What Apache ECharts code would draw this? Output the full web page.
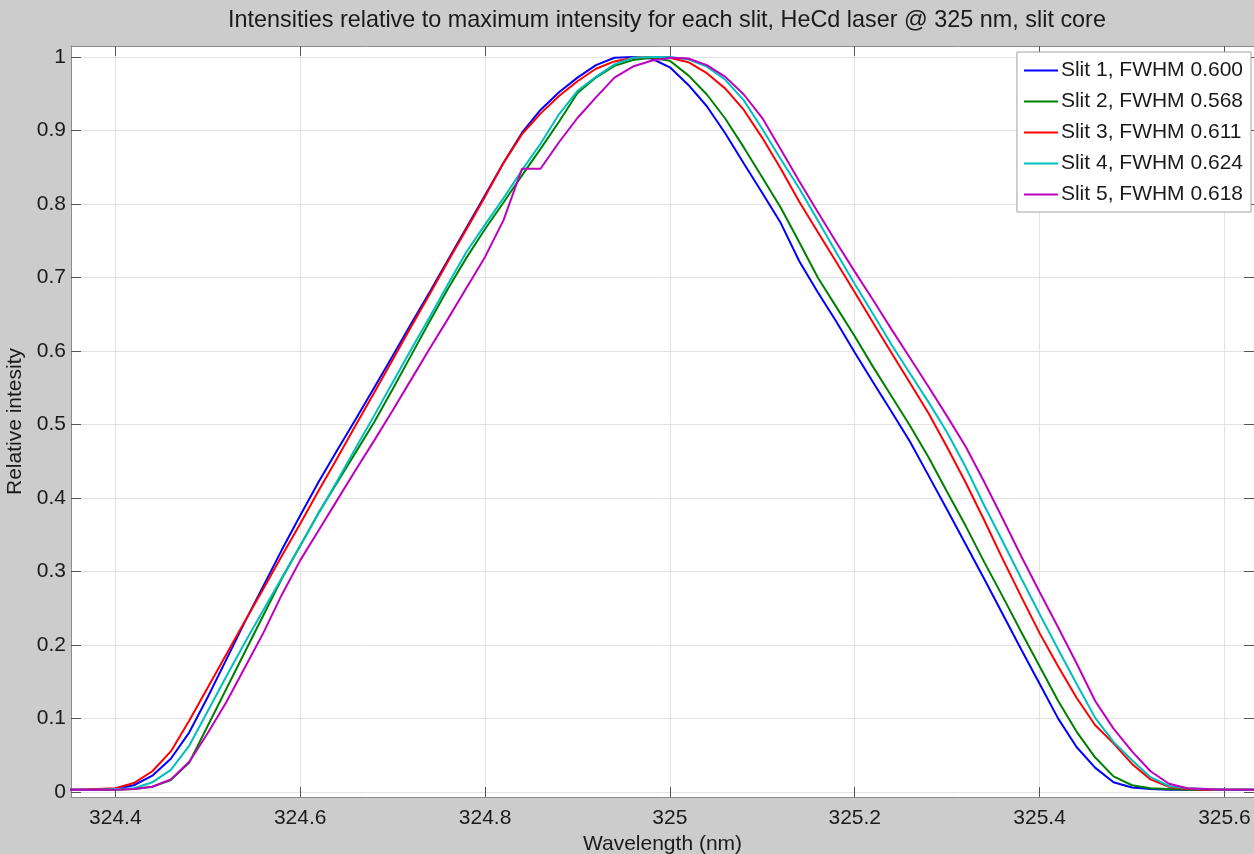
<!DOCTYPE html>
<html><head><meta charset="utf-8">
<script src="https://cdn.jsdelivr.net/npm/echarts@6/dist/echarts.min.js"></script>
<style>html,body{margin:0;padding:0;background:#cccccc;} #c{width:1254px;height:854px;}</style>
</head><body><div id="c"></div>
<script>
const titleText = 'Intensities relative to maximum intensity for each slit, HeCd laser @ 325 nm, slit core';
const xName = 'Wavelength (nm)';
const yName = 'Relative intesity';
const seriesNames = ['Slit 1, FWHM 0.600', 'Slit 2, FWHM 0.568', 'Slit 3, FWHM 0.611', 'Slit 4, FWHM 0.624', 'Slit 5, FWHM 0.618'];
const seriesColors = ['#0000ff', '#008000', '#ff0000', '#00bfbf', '#bf00bf'];
const xTickValues = [324.4, 324.6, 324.8, 325.0, 325.2, 325.4, 325.6];
const xTickLabels = ['324.4', '324.6', '324.8', '325', '325.2', '325.4', '325.6'];
const yTickValues = [0, 0.1, 0.2, 0.3, 0.4, 0.5, 0.6, 0.7, 0.8, 0.9, 1.0];
const yTickLabels = ['0', '0.1', '0.2', '0.3', '0.4', '0.5', '0.6', '0.7', '0.8', '0.9', '1'];

const wavelengths = [324.34, 324.36, 324.38, 324.40, 324.42, 324.44, 324.46, 324.48, 324.50, 324.52, 324.54,
  324.56, 324.58, 324.60, 324.62, 324.64, 324.66, 324.68, 324.70, 324.72, 324.74,
  324.76, 324.78, 324.80, 324.82, 324.84, 324.86, 324.88, 324.90, 324.92, 324.94,
  324.96, 324.98, 325.00, 325.02, 325.04, 325.06, 325.08, 325.10, 325.12, 325.14,
  325.16, 325.18, 325.20, 325.22, 325.24, 325.26, 325.28, 325.30, 325.32, 325.34,
  325.36, 325.38, 325.40, 325.42, 325.44, 325.46, 325.48, 325.50, 325.52, 325.54,
  325.56, 325.58, 325.60, 325.62, 325.64];

const slit1 = [.003, .003,.003,.004,.009,.022,.045,.081,.129,.18,.231,
  .28,.329,.376,.422,.465,.507,.55,.593,.637,.68,
  .724,.768,.812,.856,.897,.928,.952,.972,.989,.999,
  1.0,.998,.986,.962,.933,.896,.855,.815,.774,.722,
  .68,.64,.598,.557,.517,.476,.43,.384,.337,.29,
  .242,.194,.147,.1,.061,.033,.013,.006,.004,.003,
  .003,.003,.003,.003, .003];
const slit2 = [.003, .003,.003,.003,.004,.007,.016,.04,.09,.14,.19,
  .24,.29,.335,.38,.421,.462,.503,.548,.594,.64,
  .685,.727,.766,.802,.839,.875,.912,.951,.972,.988,
  .996,.999,.995,.975,.949,.916,.877,.836,.795,.748,
  .70,.66,.62,.578,.538,.498,.455,.408,.362,.313,
  .266,.218,.171,.124,.082,.047,.021,.009,.005,.004,
  .003,.003,.003,.003, .003];
const slit3 = [.003, .003,.004,.005,.012,.028,.055,.097,.142,.187,.232,
  .276,.321,.365,.41,.454,.499,.543,.588,.633,.677,
  .722,.766,.81,.856,.895,.923,.947,.967,.984,.994,
  .999,1.0,.999,.993,.978,.957,.928,.89,.848,.803,
  .762,.721,.68,.638,.597,.556,.515,.469,.421,.37,
  .317,.266,.216,.171,.128,.091,.066,.038,.017,.007,
  .004,.003,.003,.003, .003];
const slit4 = [.003, .003,.003,.004,.005,.013,.03,.063,.11,.157,.203,
  .247,.291,.335,.379,.423,.468,.512,.557,.602,.646,
  .691,.735,.772,.808,.846,.882,.922,.954,.973,.99,
  .999,1.0,1.0,.997,.987,.969,.941,.902,.861,.821,
  .778,.734,.691,.65,.608,.569,.53,.489,.442,.39,
  .341,.291,.242,.194,.147,.101,.068,.043,.02,.008,
  .005,.004,.003,.003, .003];
const slit5 = [.003, .003,.003,.003,.004,.007,.017,.041,.08,.122,.169,
  .216,.268,.315,.356,.397,.438,.478,.519,.561,.603,
  .644,.686,.728,.778,.848,.848,.884,.917,.945,.972,
  .987,.995,.999,.998,.989,.973,.949,.917,.874,.831,
  .789,.748,.708,.669,.629,.59,.551,.511,.47,.422,
  .372,.321,.272,.224,.175,.124,.086,.055,.028,.011,
  .005,.004,.003,.003, .003];

const slitValues = [slit1, slit2, slit3, slit4, slit5];
const FONT = '"Liberation Sans", Arial, Helvetica, sans-serif';
const TXT = '#1a1a1a';
const AXIS = '#8c8c8c';
const GRIDC = '#e3e3e3';

const chart = echarts.init(document.getElementById('c'), null, {renderer: 'canvas'});

function fmtX(v) { const i = xTickValues.findIndex(t => Math.abs(t - v) < 1e-6); return i >= 0 ? xTickLabels[i] : ''; }
function fmtY(v) { const i = yTickValues.findIndex(t => Math.abs(t - v) < 1e-6); return i >= 0 ? yTickLabels[i] : ''; }

const xBase = {
  type: 'value', min: 324.352, max: 325.632,
  axisLine: {show: true, onZero: false, lineStyle: {color: AXIS, width: 1}},
  axisTick: {show: true, inside: true, length: 10, customValues: xTickValues, lineStyle: {color: '#555', width: 1}},
};
const yBase = {
  type: 'value', min: -0.007, max: 1.015,
  axisLine: {show: true, onZero: false, lineStyle: {color: AXIS, width: 1}},
  axisTick: {show: true, inside: true, length: 10, customValues: yTickValues, lineStyle: {color: '#555', width: 1}},
};

chart.setOption({
  backgroundColor: '#cccccc',
  animation: false,
  textStyle: {fontFamily: FONT},
  title: {
    text: titleText, left: 662, top: 4, textAlign: 'center',
    textStyle: {fontFamily: FONT, fontSize: 23.4, fontWeight: 'normal', color: TXT}
  },
  grid: {left: 71, right: 0, top: 46, bottom: 57, show: true, backgroundColor: '#ffffff', borderWidth: 0,
    containLabel: false, outerBoundsMode: 'none'},
  legend: {
    orient: 'vertical', right: 3, top: 52,
    data: seriesNames,
    backgroundColor: '#ffffff', borderColor: '#a0a0a0', borderWidth: 1,
    padding: [8, 8, 7, 7], itemGap: 10, itemWidth: 34, itemHeight: 14,
    textStyle: {fontFamily: FONT, fontSize: 21, color: TXT, lineHeight: 21, padding: [0, 0, 0, -2]},
    icon: 'path://M0,6 L34,6 L34,8 L0,8 Z'
  },
  xAxis: [
    Object.assign({}, xBase, {
      position: 'bottom', name: xName, nameLocation: 'middle', nameGap: 36,
      nameTextStyle: {fontFamily: FONT, fontSize: 21, color: TXT},
      axisLabel: {show: true, customValues: xTickValues, formatter: fmtX, margin: 11, fontFamily: FONT, fontSize: 21, color: TXT},
      splitLine: {show: true, lineStyle: {color: GRIDC, width: 1}}
    }),
    Object.assign({}, xBase, {position: 'top', axisLabel: {show: false}, splitLine: {show: false}})
  ],
  yAxis: [
    Object.assign({}, yBase, {
      position: 'left', name: yName, nameLocation: 'middle', nameGap: 42, nameRotate: 90,
      nameTextStyle: {fontFamily: FONT, fontSize: 21, color: TXT},
      axisLabel: {show: true, customValues: yTickValues, formatter: fmtY, margin: 5, fontFamily: FONT, fontSize: 21, color: TXT},
      splitLine: {show: true, lineStyle: {color: GRIDC, width: 1}}
    }),
    Object.assign({}, yBase, {position: 'right', axisLabel: {show: false}, splitLine: {show: false}})
  ],
  series: seriesNames.map((name, k) => ({
    name: name, type: 'line', xAxisIndex: 0, yAxisIndex: 0,
    data: wavelengths.map((w, i) => [w, slitValues[k][i]]),
    symbol: 'none', smooth: false, clip: true,
    lineStyle: {color: seriesColors[k], width: 2},
    itemStyle: {color: seriesColors[k]}
  }))
});
</script></body></html>
